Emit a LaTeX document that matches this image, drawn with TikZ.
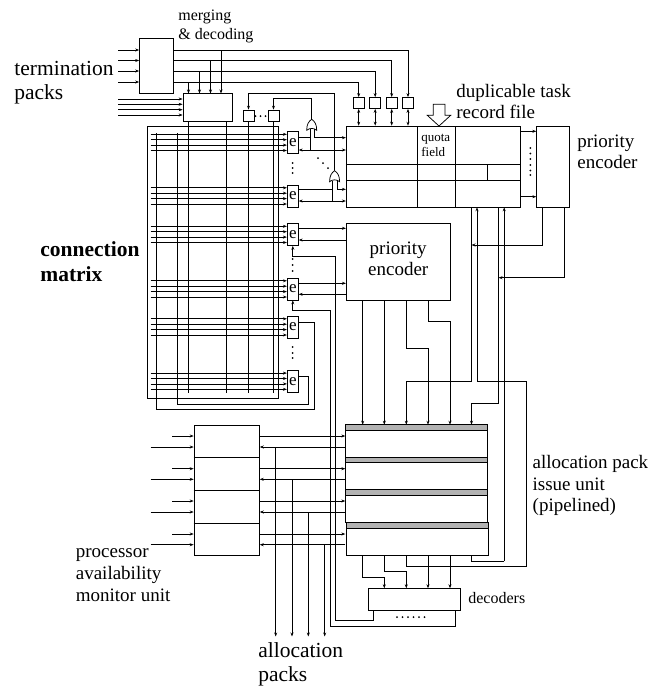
\documentclass[tikz,border=0pt]{standalone}
\usepackage{fontspec}
\setmainfont{Liberation Serif}
\usepackage{tikz}
\usetikzlibrary{arrows.meta}
\definecolor{band}{RGB}{178,178,178}
\newcommand{\txt}[2]{\fontsize{#1}{#2}\selectfont}

\begin{document}
\begin{tikzpicture}[
  x=1pt, y=-1pt,
  line width=0.75pt,
  blk/.style={draw, line width=0.75pt},
  arr/.style={-{Stealth[length=4pt,width=3pt]}, line width=0.75pt},
  dbl/.style={{Stealth[length=4pt,width=3pt]}-{Stealth[length=4pt,width=3pt]}, line width=0.75pt},
  lab/.style={inner sep=0pt, anchor=west, align=left},
  ebox/.style={blk, minimum width=11pt, minimum height=22pt, inner sep=0pt, font=\txt{17}{17}},
  reg/.style={blk, minimum width=11pt, minimum height=11pt, inner sep=0pt},
  pdot/.style={fill, circle, inner sep=0pt, minimum size=2pt},
]
  \useasboundingbox (0,0) rectangle (648,686);

  % Merging and decoding
  \node[blk, minimum width=33.5pt, minimum height=54.5pt, inner sep=0pt] (merge) at (156.3,65.8) {};
  \node[blk, minimum width=49pt, minimum height=27.5pt, inner sep=0pt] (dec) at (207.5,107.3) {};
  \foreach \y in {50,60.5,71,82} \draw[arr] (118,\y) -- (merge.west |- 0,\y);
  \foreach \y in {99,104.3,109.7,115} \draw[arr] (118,\y) -- (dec.west |- 0,\y);

  % Registers above the record file
  \foreach \n/\x in {1/358.7,2/375.2,3/391.7,4/408} {
    \node[reg] (r\n) at (\x,103) {};
    \draw[dbl] (r\n.south) -- ++(0,16.8);
  }
  \draw[arr] (merge.east |- 0,50) -| (r4.north);
  \draw[arr] (merge.east |- 0,60.5) -| (r3.north);
  \draw[arr] (merge.east |- 0,71) -| (r2.north);
  \draw[arr] (merge.east |- 0,82) -| (r1.north);
  \foreach \x/\y in {221/50,210.5/60.5,199.5/71,188.5/82}
    \draw[arr] (\x,\y) -- (\x,93.5);

  % Small registers and or gates
  \node[reg] (s1) at (248.5,115.5) {};
  \node[reg] (s2) at (273.5,115.5) {};
  \foreach \x in {255.5,260.5,265.5} \node[pdot] at (\x,116) {};
  \coordinate (g1) at (311.7,119.3);
  \coordinate (g2) at (334.6,170.7);
  \draw[arr] (g1) |- (s2.north |- 0,98.5) -- (s2.north);
  \draw[arr] (g2) |- (s1.north |- 0,93.5) -- (s1.north);
  \foreach \x/\y in {318/158,323/163,328/168} \node[pdot] at (\x,\y) {};
  \foreach \x/\y in {311.7/119.3,334.6/170.7} {
    \draw[fill=white] (\x,\y) .. controls (\x+3,\y+2) and (\x+5,\y+5) .. (\x+5,\y+11)
      .. controls (\x+2,\y+8.5) and (\x-2,\y+8.5) .. (\x-5,\y+11)
      .. controls (\x-5,\y+5) and (\x-3,\y+2) .. (\x,\y);
  }

  % Connection matrix
  \draw (147.7,126.3) rectangle (278.3,398.3);
  \foreach \n/\y in {1/142.5,2/196,3/234.5,4/289,5/327,6/381.3} {
    \node[ebox] (e\n) at (292.8,\y) {e};
    \foreach \d in {-8.2,-2.8,2.6,8}
      \draw[arr] (150.5,\y+\d) -- (e\n.west |- 0,\y+\d);
  }
  \draw (dec.south -| 188.7,0) -- (188.7,392.7);
  \draw (dec.south -| 226.7,0) -- (226.7,392.7);
  \draw (s1.south) -- (248.5,392.7);
  \draw (s2.south) -- (273.5,392.7);
  \draw (156,133) |- (314,409.3) |- (e5.east |- 0,322.3);
  \draw (177.7,133) |- (308.7,404) |- (e6.east |- 0,376.7);
  \foreach \y in {163,168,173,259,265,271,347,353,358}
    \node[pdot] at (292.7,\y) {};

  % Duplicable task record file
  \node[blk, minimum width=174.4pt, minimum height=81.3pt, inner sep=0pt] (file) at (433.5,166.7) {};
  \draw (file.west |- 0,164) -- (file.east |- 0,164);
  \draw (file.west |- 0,180.3) -- (file.east |- 0,180.3);
  \draw (417.3,126) -- (417.3,207.3);
  \draw (455.3,126) -- (455.3,207.3);
  \draw (487.7,164) -- (487.7,180.3);
  \node[lab, font=\txt{13}{15}] (quota) at (421,145) {quota\\field};
  \draw[fill=white] (433.3,104.3) -- (445,104.3) -- (445,115.3) -- (450.7,115.3) -- (439,126)
    -- (427.3,115.3) -- (433.3,115.3) -- cycle;
  \node[lab, font=\txt{19}{21}] (dup) at (456,101) {duplicable task\\record file};

  \draw (e1.east |- 0,137.7) -- (310,137.7);
  \draw (310,129) -- (310,150);
  \draw[arr] (314.7,129) |- (file.west |- 0,137.7);
  \draw[dbl] (e1.east |- 0,150) -- (file.west |- 0,150);
  \draw (e2.east |- 0,189.3) -- (332.7,189.3);
  \draw (332.7,181) -- (332.7,201);
  \draw[arr] (337.3,181) |- (file.west |- 0,189.3);
  \draw[dbl] (e2.east |- 0,201) -- (file.west |- 0,201);

  % Second priority encoder
  \node[blk, minimum width=32.6pt, minimum height=81.3pt, inner sep=0pt] (penc) at (553,166.7) {};
  \draw[arr] (file.east |- 0,131.3) -- (penc.west |- 0,131.3);
  \draw[arr] (file.east |- 0,196.7) -- (penc.west |- 0,196.7);
  \foreach \y in {148,153.5,159,165,170.5,175} \node[pdot] at (530.3,\y) {};
  \node[lab, font=\txt{19}{21}] (ptext) at (577,151.5) {priority\\encoder};

  % Priority encoder
  \node[blk, minimum width=103.7pt, minimum height=76.3pt, inner sep=0pt] (enc) at (398.2,261.9) {};
  \node[inner sep=0pt, align=center, font=\txt{19}{21}] (etext) at (398.2,258.5) {priority\\encoder};
  \draw[arr] (e3.east |- 0,228.3) -- (enc.west |- 0,228.3);
  \draw[arr] (enc.west |- 0,240) -- (e3.east |- 0,240);
  \draw[arr] (e4.east |- 0,283.3) -- (enc.west |- 0,283.3);
  \draw[arr] (enc.west |- 0,294.3) -- (e4.east |- 0,294.3);

  % Allocation pack issue unit
  \node[blk, minimum width=141.6pt, minimum height=97.9pt, inner sep=0pt] (issue) at (416.5,473.7) {};
  \node[blk, minimum width=142pt, minimum height=33.1pt, inner sep=0pt] (issue4) at (417.3,539.2) {};
  \foreach \y in {424.7,457,489.7} \draw[fill=band] (345.7,\y) rectangle (487.3,\y+5.6);
  \draw[fill=band] (346.3,522.7) rectangle (488.3,528.3);
  \node[lab, font=\txt{19}{21.7}] (itext) at (532.3,485.5) {allocation pack\\issue unit\\(pipelined)};

  \draw[arr] (362.7,300) -- (362.7,424.7);
  \draw[arr] (384.3,300) -- (384.3,424.7);
  \draw[arr] (406.3,300) |- (428,348.7) -- (428,424.7);
  \draw[arr] (428,300) |- (450,321.7) -- (450,424.7);
  \draw[arr] (471.5,207.3) |- (406.3,381.7) -- (406.3,424.7);
  \draw[arr] (498.5,207.3) |- (471.5,403) -- (471.5,424.7);
  \draw[arr] (477,381.7) -- (477,207.3);
  \draw[arr] (504.2,561) -- (504.2,207.3);
  \draw (477,381.7) -| (526,566) -| (406.3,555.7);
  \draw (504.2,561) -| (471.5,555.7);
  \draw[arr] (penc.south -| 542.3,0) |- (471.5,245);
  \draw[arr] (penc.south -| 564,0) |- (498.5,277.7);

  % Decoders
  \node[blk, minimum width=92.7pt, minimum height=21.7pt, inner sep=0pt] (decs) at (414.3,599.2) {};
  \node[lab, font=\txt{16}{16}] (dtext) at (468,598) {decoders};
  \foreach \x in {397,402.5,408,413.5,419,424.5} \node[pdot] at (\x,617) {};
  \draw[arr] (362.7,555.7) |- (384.3,577.3) -- (384.3,588.3);
  \draw[arr] (384.3,555.7) |- (406.3,571.3) -- (406.3,588.3);
  \draw[arr] (428,555.7) -- (428,588.3);
  \draw[arr] (450,555.7) -- (450,588.3);

  \draw[arr] (373.7,610) |- (335.7,620.7) -- (335.7,256) -- (292.8,256) -- (e3.south);
  \draw[arr] (455.7,610) |- (330,626) -- (330,310.5) -- (292.8,310.5) -- (e4.south);

  % Processor availability monitor unit
  \node[blk, minimum width=65.3pt, minimum height=130.7pt, inner sep=0pt] (mon) at (226.7,490.3) {};
  \foreach \y in {457.7,490.3,523} \draw (mon.west |- 0,\y) -- (mon.east |- 0,\y);
  \foreach \a/\b/\x in {436/447/275.7,468.7/479.3/292,501/512/308.3,534/544.7/324.7} {
    \draw[arr] (172,\a) -- (mon.west |- 0,\a);
    \draw[arr] (150.7,\b) -- (mon.west |- 0,\b);
    \draw[arr] (mon.east |- 0,\a) -- (issue.west |- 0,\a);
    \draw[arr] (issue.west |- 0,\b) -- (mon.east |- 0,\b);
    \draw[arr] (\x,\b) -- (\x,636.5);
  }
  \node[lab, font=\txt{19}{22}] (ptext2) at (75.5,575) {processor\\availability\\monitor unit};

  % Outside labels
  \node[lab, font=\txt{21.5}{24}] (term) at (14,82.5) {termination\\packs};
  \node[lab, font=\txt{16}{19.5}] (mtext) at (178,26.5) {merging\\\& decoding};
  \node[lab, font=\bfseries\txt{21.5}{25}] (conn) at (40,262) {connection\\matrix};
  \node[lab, font=\txt{21.5}{24}] (alloc) at (258,664) {allocation\\packs};
\end{tikzpicture}
\end{document}
